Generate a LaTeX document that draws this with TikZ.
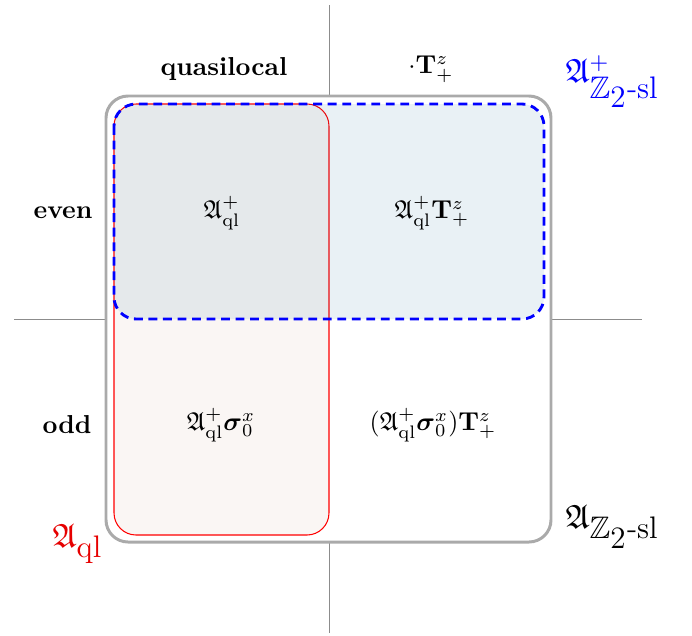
\documentclass[tikz,border=0pt]{standalone}
\usepackage{amsmath,amssymb}
\definecolor{axisgray}{RGB}{140,140,140}
\definecolor{boxgray}{RGB}{170,170,170}
\definecolor{redfill}{RGB}{250,246,244}
\definecolor{bluetint}{RGB}{45,125,165}
\definecolor{labred}{RGB}{230,0,0}
\newcommand{\zslsub}{\text{\fontsize{12}{14}\selectfont$\mathbb{Z}_{\textstyle 2}$-sl}}
\tikzset{
  axisline/.style={draw=axisgray, line width=0.3pt},
  outerbox/.style={draw=boxgray, line width=1.15pt, fill=white, rounded corners=8.5pt},
  qlbox/.style={draw=red, line width=0.4pt, fill=redfill, rounded corners=8.5pt},
  slfill/.style={fill=bluetint, fill opacity=0.1, rounded corners=8.5pt},
  slbox/.style={draw=blue, line width=1.1pt, dash pattern=on 3.4pt off 2.2pt, rounded corners=8.5pt},
  lab/.style={inner sep=0pt, anchor=center},
  setlab/.style={inner sep=0pt, anchor=base west, font=\fontsize{13}{15}\selectfont},
}
\begin{document}
\begin{tikzpicture}[x=0.3855pt,y=-0.3855pt]
\useasboundingbox (0,0) rectangle (692,635);
% axes
\coordinate (vtop) at (329,5);
\coordinate (vbot) at (329,633);
\coordinate (hl) at (14,319);
\coordinate (hr) at (642,319);
\draw[axisline] (vtop) -- (vbot);
\draw[axisline] (hl) -- (hr);
% boxes
\path[outerbox] (106,96) rectangle (551,542);
\path[qlbox] (114,104) rectangle (329,535);
\path[slfill] (114,104) rectangle (544,319);
\draw[slbox] (114,104) rectangle (544,319);
% headers
\node[lab] (hql) at (224,69) {\textbf{quasilocal}};
\node[lab] (hT) at (431,69) {$\cdot\mathbf{T}^z_+$};
\node[lab] (heven) at (63,213) {\textbf{even}};
\node[lab] (hodd) at (67,425) {\textbf{odd}};
% cells
\node[lab] (c11) at (222,213) {$\mathfrak{A}^+_{\mathrm{ql}}$};
\node[lab] (c12) at (432,213) {$\mathfrak{A}^+_{\mathrm{ql}}\mathbf{T}^z_+$};
\node[lab] (c21) at (221,425) {$\mathfrak{A}^+_{\mathrm{ql}}\boldsymbol{\sigma}^x_0$};
\node[lab] (c22) at (433,425) {$(\mathfrak{A}^+_{\mathrm{ql}}\boldsymbol{\sigma}^x_0)\mathbf{T}^z_+$};
% set labels
\node[setlab, text=blue] (lslp) at (565,82) {$\mathfrak{A}^+_{\zslsub}$};
\node[setlab] (lsl) at (565,528) {$\mathfrak{A}_{\zslsub}$};
\node[setlab, text=labred] (lql) at (52,547) {$\mathfrak{A}_{\textstyle\mathrm{ql}}$};
\end{tikzpicture}
\end{document}
